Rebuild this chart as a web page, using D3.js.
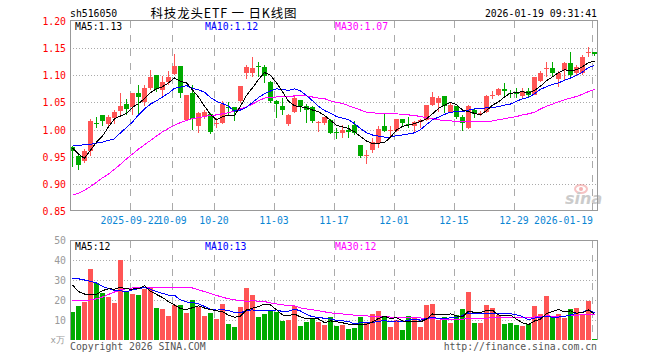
<!DOCTYPE html>
<html><head><meta charset="utf-8">
<script src="https://cdn.jsdelivr.net/npm/d3@7/dist/d3.min.js"></script>
<style>
html,body{margin:0;padding:0;background:#fff;}
svg{display:block;}
text{font-family:"DejaVu Sans Mono","Liberation Mono",monospace;font-size:9.8px;}
</style></head><body>
<svg id="chart" width="660" height="360"></svg>
<script>
const dates = ["2025-09-08","2025-09-09","2025-09-10","2025-09-11","2025-09-12","2025-09-15","2025-09-16","2025-09-17","2025-09-18","2025-09-19",
"2025-09-22","2025-09-23","2025-09-24","2025-09-25","2025-09-26","2025-09-29","2025-09-30","2025-10-09","2025-10-10","2025-10-13",
"2025-10-14","2025-10-15","2025-10-16","2025-10-17","2025-10-20","2025-10-21","2025-10-22","2025-10-23","2025-10-24","2025-10-27",
"2025-10-28","2025-10-29","2025-10-30","2025-10-31","2025-11-03","2025-11-04","2025-11-05","2025-11-06","2025-11-07","2025-11-10",
"2025-11-11","2025-11-12","2025-11-13","2025-11-14","2025-11-17","2025-11-18","2025-11-19","2025-11-20","2025-11-21","2025-11-24",
"2025-11-25","2025-11-26","2025-11-27","2025-11-28","2025-12-01","2025-12-02","2025-12-03","2025-12-04","2025-12-05","2025-12-08",
"2025-12-09","2025-12-10","2025-12-11","2025-12-12","2025-12-15","2025-12-16","2025-12-17","2025-12-18","2025-12-19","2025-12-22",
"2025-12-23","2025-12-24","2025-12-25","2025-12-26","2025-12-29","2025-12-30","2025-12-31","2026-01-05","2026-01-06","2026-01-07",
"2026-01-08","2026-01-09","2026-01-12","2026-01-13","2026-01-14","2026-01-15","2026-01-16","2026-01-19"];

const open = [0.967,0.951,0.942,0.960,1.013,1.026,1.010,1.022,1.035,1.047,
1.041,1.067,1.050,1.077,1.100,1.073,1.087,1.103,1.118,1.018,
1.067,1.006,1.025,1.029,1.012,1.013,1.041,1.041,1.052,1.104,
1.105,1.118,1.116,1.088,1.052,1.044,1.011,1.032,1.055,1.043,
1.041,1.013,1.012,1.018,0.995,0.993,1.000,1.009,0.972,0.952,
0.963,0.975,1.006,0.998,0.997,1.020,1.010,1.006,1.014,1.018,
1.046,1.049,1.061,1.032,1.043,1.024,1.003,1.036,1.029,1.032,
1.062,1.063,1.075,1.067,1.067,1.062,1.071,1.064,1.090,1.113,
1.113,1.094,1.110,1.122,1.104,1.104,1.141,1.143];
const high = [0.970,0.954,0.965,1.019,1.024,1.027,1.027,1.036,1.067,1.056,
1.067,1.082,1.083,1.110,1.101,1.099,1.108,1.139,1.118,1.064,
1.082,1.033,1.036,1.030,1.021,1.052,1.050,1.041,1.081,1.119,
1.134,1.125,1.119,1.089,1.055,1.058,1.028,1.063,1.055,1.047,
1.044,1.016,1.024,1.019,1.002,1.009,1.009,1.015,0.972,0.963,
0.985,1.006,1.029,1.006,1.020,1.020,1.024,1.016,1.020,1.046,
1.069,1.061,1.061,1.049,1.043,1.026,1.045,1.039,1.035,1.064,
1.071,1.076,1.085,1.073,1.076,1.076,1.076,1.096,1.108,1.125,
1.125,1.107,1.124,1.143,1.119,1.137,1.153,1.143];
const low = [0.931,0.926,0.939,0.951,1.003,1.007,1.006,1.010,1.026,1.027,
1.027,1.026,1.044,1.073,1.070,1.061,1.082,1.101,1.059,1.015,
1.000,0.994,1.020,0.991,1.002,1.010,1.026,1.016,1.049,1.094,
1.097,1.097,1.085,1.049,1.022,1.027,1.006,1.030,1.033,1.012,
1.012,0.996,1.008,0.992,0.983,0.985,0.985,0.990,0.947,0.937,
0.957,0.966,0.996,0.985,0.996,1.004,1.003,0.994,1.003,1.015,
1.043,1.032,1.030,1.030,1.020,0.997,1.001,1.022,1.025,1.030,
1.057,1.061,1.059,1.059,1.058,1.059,1.058,1.063,1.087,1.097,
1.097,1.079,1.091,1.096,1.101,1.101,1.134,1.136];
const close = [0.960,0.935,0.960,1.016,1.012,1.015,1.024,1.032,1.044,1.037,
1.067,1.060,1.077,1.097,1.075,1.087,1.096,1.118,1.067,1.064,
1.020,1.030,1.032,0.996,1.013,1.047,1.040,1.033,1.081,1.116,
1.113,1.117,1.099,1.053,1.047,1.036,1.027,1.059,1.043,1.036,
1.015,1.014,1.024,0.994,0.994,1.000,0.996,0.994,0.951,0.953,
0.977,1.001,0.998,1.000,1.020,1.012,1.009,1.014,1.018,1.045,
1.060,1.058,1.043,1.045,1.024,1.012,1.043,1.028,1.030,1.061,
1.063,1.075,1.071,1.066,1.066,1.071,1.063,1.096,1.105,1.114,
1.105,1.105,1.122,1.101,1.116,1.134,1.142,1.139];

const ma5 = [0.966,0.955,0.947,0.962,0.977,0.988,1.005,1.020,1.025,1.030,
1.041,1.048,1.057,1.068,1.075,1.079,1.086,1.095,1.089,1.086,
1.073,1.060,1.043,1.028,1.018,1.024,1.026,1.026,1.043,1.063,
1.077,1.092,1.105,1.100,1.086,1.070,1.052,1.044,1.042,1.040,
1.036,1.033,1.026,1.017,1.008,1.005,1.002,0.996,0.987,0.979,
0.974,0.975,0.976,0.986,0.999,1.006,1.008,1.011,1.015,1.020,
1.029,1.039,1.045,1.050,1.046,1.036,1.033,1.030,1.027,1.035,
1.045,1.051,1.060,1.067,1.068,1.070,1.067,1.072,1.080,1.090,
1.097,1.105,1.110,1.109,1.110,1.116,1.123,1.126];
const ma10 = [0.971,0.971,0.972,0.973,0.975,0.977,0.980,0.983,0.994,1.004,
1.014,1.027,1.038,1.047,1.053,1.060,1.067,1.076,1.078,1.081,
1.076,1.073,1.069,1.059,1.052,1.048,1.043,1.034,1.036,1.041,
1.050,1.059,1.066,1.071,1.075,1.074,1.072,1.075,1.071,1.063,
1.053,1.043,1.035,1.030,1.024,1.021,1.018,1.011,1.002,0.994,
0.990,0.988,0.986,0.986,0.989,0.990,0.992,0.994,1.000,1.009,
1.018,1.023,1.028,1.032,1.033,1.033,1.036,1.038,1.039,1.040,
1.041,1.042,1.045,1.047,1.052,1.057,1.059,1.066,1.074,1.079,
1.083,1.086,1.091,1.095,1.100,1.106,1.114,1.118];
const ma30 = [0.879,0.883,0.888,0.895,0.903,0.911,0.918,0.927,0.936,0.946,
0.955,0.964,0.972,0.980,0.988,0.996,1.002,1.008,1.013,1.017,
1.020,1.022,1.024,1.026,1.027,1.029,1.031,1.034,1.038,1.042,
1.047,1.053,1.058,1.059,1.060,1.061,1.061,1.062,1.062,1.062,
1.060,1.058,1.057,1.053,1.050,1.048,1.044,1.040,1.036,1.032,
1.031,1.030,1.029,1.029,1.029,1.028,1.027,1.026,1.024,1.022,
1.020,1.018,1.016,1.016,1.015,1.015,1.015,1.014,1.014,1.014,
1.016,1.018,1.020,1.022,1.024,1.027,1.029,1.032,1.038,1.043,
1.047,1.051,1.055,1.058,1.061,1.065,1.070,1.074];

const volume = [14.0,17.0,19.0,35.5,28.5,23.5,21.3,18.5,40.0,24.3,
23.2,22.5,25.5,26.5,16.2,15.6,12.0,17.3,17.5,13.7,
20.2,16.6,12.0,13.6,10.7,17.9,7.9,6.6,16.6,26.0,
22.7,11.5,13.0,14.3,14.0,9.7,10.0,16.9,7.0,9.1,
10.3,9.2,7.7,11.5,7.1,7.6,5.6,6.1,11.7,8.5,
13.0,14.6,11.4,6.5,10.1,5.2,12.0,11.3,6.5,17.4,
18.1,9.8,11.4,8.6,12.4,15.6,24.0,8.4,8.4,17.4,
16.0,12.3,7.9,8.5,7.4,7.0,7.8,16.9,12.9,22.0,
11.3,13.2,11.0,15.4,16.0,13.1,19.6,0.5];
const volMa5 = [27.5,24.2,23.0,23.0,22.8,24.7,25.56,25.46,26.36,25.52,
25.46,25.7,27.1,24.4,22.78,21.26,19.16,17.52,15.72,15.22,
16.14,17.06,16.0,15.22,14.62,14.16,12.42,11.34,11.94,15.0,
15.96,16.68,17.96,17.5,15.1,12.5,12.2,12.98,11.52,10.54,
10.66,10.5,8.66,9.56,9.16,8.62,7.9,7.58,7.62,7.9,
8.98,10.78,11.84,10.8,11.12,9.56,9.04,9.02,9.02,10.48,
13.06,12.62,12.64,13.06,12.06,11.56,14.4,13.8,13.76,14.76,
14.84,12.5,12.4,12.42,10.42,8.62,7.72,9.52,10.4,13.32,
14.18,15.26,14.08,14.58,13.38,13.74,15.02,12.92];
const volMa10 = [30.8,30.6,30.0,29.3,28.5,26.8,25.8,24.8,24.6,24.16,
25.08,25.63,26.28,25.38,24.15,23.36,22.43,22.31,20.06,19.0,
18.7,18.11,16.76,15.47,14.92,15.15,14.74,13.67,13.58,14.81,
15.06,14.55,14.65,14.72,15.05,14.23,14.44,15.47,14.51,12.82,
11.58,11.35,10.82,10.54,9.85,9.64,9.2,8.12,8.59,8.53,
8.8,9.34,9.71,9.21,9.51,9.27,9.91,10.43,9.91,10.8,
11.31,10.83,10.83,11.04,11.27,12.31,13.51,13.22,13.41,13.41,
13.2,13.45,13.1,13.09,12.59,11.73,10.11,10.96,11.41,11.87,
11.4,11.49,11.8,12.49,13.35,13.96,15.14,13.5];
const volMa30 = [19.5,19.6,19.8,20.0,20.6,21.5,22.8,24.0,25.0,25.7,
26.0,26.2,26.3,26.3,26.3,26.3,26.3,26.3,26.2,26.2,
26.0,25.1,24.2,23.3,22.3,21.4,20.6,20.1,19.7,19.32,
19.61,19.43,19.23,18.52,18.04,17.58,17.2,17.15,16.05,15.54,
15.11,14.67,14.08,13.58,13.27,13.01,12.79,12.42,12.23,12.05,
11.81,11.75,11.73,11.49,11.47,11.05,11.18,11.34,11.0,10.72,
10.56,10.51,10.45,10.26,10.21,10.41,10.87,10.59,10.64,10.91,
11.1,11.21,11.21,11.11,11.12,11.1,11.18,11.54,11.58,12.03,
11.97,11.92,11.91,12.21,12.4,12.67,12.92,12.56];

const priceTicks = [1.20,1.15,1.10,1.05,1.00,0.95,0.90,0.85];
const volTicks = [50,40,30,20,10];
const dateTicks = ["2025-09-22","2025-10-09","2025-10-20","2025-11-03","2025-11-17","2025-12-01","2025-12-15","2025-12-29","2026-01-19"];
const dateTickLabels = ["2025-09-22","10-09","10-20","11-03","11-17","12-01","12-15","12-29","2026-01-19"];

const code = "sh516050";
const title = "科技龙头ETF 一 日K线图";
const stamp = "2026-01-19 09:31:41";
const priceLegend = ["MA5:1.13","MA10:1.12","MA30:1.07"];
const volLegend = ["MA5:12","MA10:13","MA30:12"];
const volUnit = "x万";
const copyright = "Copyright 2026 SINA.COM";
const site = "http://finance.sina.com.cn";

const C = {up:"#ff5555", down:"#00aa00", ma5:"#000000", ma10:"#0000ff", ma30:"#ff00ff",
  frame:"#999999", grid:"#aaaaaa", yLab:"#ff0000", xLab:"#0a86d4", vLab:"#9a9a9a", foot:"#555555"};

const L = 70, R = 597;
const svg = d3.select("#chart");

const x = d3.scaleBand().domain(dates).range([L, L + 6*dates.length - 1]).paddingInner(1/6).paddingOuter(0).align(0);
const bw = x.bandwidth();
const y = d3.scaleLinear().domain([0.85, 1.20]).range([211, 21]);
const yv = d3.scaleLinear().domain([0, 50]).range([340, 240]);

const data = dates.map((d,i)=>({d, o:open[i], h:high[i], l:low[i], c:close[i], v:volume[i]}));
const colorOf = p => p.c >= p.o ? C.up : C.down;

// ---- grids
function hGrid(scale, vals) {
  svg.append("g").selectAll("line").data(vals).join("line")
    .attr("x1", L).attr("x2", R)
    .attr("y1", v => Math.round(scale(v)) + 0.5).attr("y2", v => Math.round(scale(v)) + 0.5)
    .attr("stroke", C.grid).attr("stroke-dasharray", "1,2").attr("shape-rendering","crispEdges");
}
hGrid(y, priceTicks.filter(v => v > 0.86 && v < 1.19));
hGrid(yv, volTicks.filter(v => v < 50));

function vGrid(y0, y1) {
  svg.append("g").selectAll("line").data(dateTicks).join("line")
    .attr("x1", d => x(d) + 0.5).attr("x2", d => x(d) + 0.5)
    .attr("y1", y0).attr("y2", y1)
    .attr("stroke", C.grid).attr("stroke-dasharray", "7,7").attr("shape-rendering","crispEdges");
}
vGrid(21, 211);
vGrid(241, 340);

// ---- candles
const cg = svg.append("g").attr("shape-rendering","crispEdges");
cg.selectAll("rect.wick").data(data).join("rect").attr("class","wick")
  .attr("x", p => x(p.d) + 2).attr("width", 1)
  .attr("y", p => Math.round(y(p.h))).attr("height", p => Math.max(1, Math.round(y(p.l)) - Math.round(y(p.h))))
  .attr("fill", colorOf);
cg.selectAll("rect.body").data(data).join("rect").attr("class","body")
  .attr("x", p => x(p.d)).attr("width", bw)
  .attr("y", p => Math.round(y(Math.max(p.o,p.c))))
  .attr("height", p => Math.max(1, Math.round(y(Math.min(p.o,p.c))) - Math.round(y(Math.max(p.o,p.c)))))
  .attr("fill", colorOf);

// ---- volume bars
svg.append("g").attr("shape-rendering","crispEdges").selectAll("rect").data(data).join("rect")
  .attr("x", p => x(p.d)).attr("width", bw)
  .attr("y", p => Math.round(yv(p.v))).attr("height", p => 340 - Math.round(yv(p.v)))
  .attr("fill", colorOf);

// ---- MA lines
const cx = i => x(dates[i]) + bw/2;
function maLine(arr, scale, color) {
  svg.append("path").datum(arr)
    .attr("d", d3.line().x((v,i) => cx(i)).y(v => scale(v)))
    .attr("fill","none").attr("stroke", color).attr("stroke-width", 1)
    .attr("shape-rendering","crispEdges");
}
maLine(ma30, y, C.ma30); maLine(ma10, y, C.ma10); maLine(ma5, y, C.ma5);
maLine(volMa30, yv, C.ma30); maLine(volMa10, yv, C.ma10); maLine(volMa5, yv, C.ma5);

// ---- frames
const fr = svg.append("g").attr("fill","none").attr("stroke", C.frame).attr("shape-rendering","crispEdges");
fr.append("rect").attr("x", L + 0.5).attr("y", 20.5).attr("width", R - L).attr("height", 190);
fr.append("path").attr("d", `M${L+0.5},340V240.5H${R+0.5}V340`);

// ---- axes
const yAx = svg.append("g").attr("transform", "translate(66,0)")
  .call(d3.axisLeft(y).tickValues(priceTicks).tickFormat(d3.format(".2f")).tickSize(0).tickPadding(0));
yAx.select(".domain").remove();
yAx.attr("font-family", null).attr("font-size", null);
yAx.selectAll("text").attr("fill", C.yLab).attr("dy", "0.35em");

const vAx = svg.append("g").attr("transform", "translate(66,0)")
  .call(d3.axisLeft(yv).tickValues(volTicks).tickSize(0).tickPadding(0));
vAx.select(".domain").remove();
vAx.attr("font-family", null).attr("font-size", null);
vAx.selectAll("text").attr("fill", C.vLab).attr("dy", "0.35em");

const labelOf = d3.scaleOrdinal().domain(dateTicks).range(dateTickLabels);
const xAx = svg.append("g").attr("transform", `translate(${-bw/2},215)`)
  .call(d3.axisBottom(x).tickValues(dateTicks).tickFormat(labelOf).tickSize(0).tickPadding(0));
xAx.select(".domain").remove();
xAx.attr("font-family", null).attr("font-size", null);
xAx.selectAll("text").attr("fill", C.xLab).attr("dy", "0.95em")
  .filter(d => d === dateTicks[dateTicks.length-1]).attr("text-anchor","end").attr("x", 1);

// ---- header texts
svg.append("text").attr("x", 70).attr("y", 16.5).attr("fill", "#000").text(code);
svg.append("text").attr("x", 150.5).attr("y", 17.5).attr("textLength", 146).attr("lengthAdjust","spacing")
  .style("font-family", '"Noto Sans CJK SC","Noto Sans",sans-serif').style("font-size", "12.5px").attr("fill","#000").text(title);
svg.append("text").attr("x", R).attr("y", 16.5).attr("text-anchor","end").attr("fill","#000").text(stamp);

const legX = [75, 205, 335], legC = [C.ma5, C.ma10, C.ma30];
svg.append("g").selectAll("text").data(priceLegend).join("text")
  .attr("x", (d,i) => legX[i]).attr("y", 29.5).attr("fill", (d,i) => legC[i]).text(d => d);
svg.append("g").selectAll("text").data(volLegend).join("text")
  .attr("x", (d,i) => legX[i]).attr("y", 250).attr("fill", (d,i) => legC[i]).text(d => d);

svg.append("text").attr("x", 65).attr("y", 343).attr("text-anchor","end").attr("fill", C.vLab)
  .style("font-size","9px").text(volUnit);
svg.append("text").attr("x", 70).attr("y", 349.5).attr("fill", C.foot).text(copyright);
svg.append("text").attr("x", R).attr("y", 349.5).attr("text-anchor","end").attr("fill", C.foot).text(site);

// ---- sina watermark
const wm = svg.append("g").attr("opacity", 0.5);
wm.append("ellipse").attr("cx", 581).attr("cy", 189).attr("rx", 6).attr("ry", 4).attr("fill","none").attr("stroke","#e88").attr("stroke-width",2);
wm.append("circle").attr("cx", 581).attr("cy", 189).attr("r", 2).attr("fill","#e66");
wm.append("text").attr("x", 565).attr("y", 204).style("font-family","'DejaVu Sans',sans-serif")
  .style("font-size","16px").style("font-style","italic").style("font-weight","bold").attr("fill","#999").text("sina");
</script>
</body></html>
